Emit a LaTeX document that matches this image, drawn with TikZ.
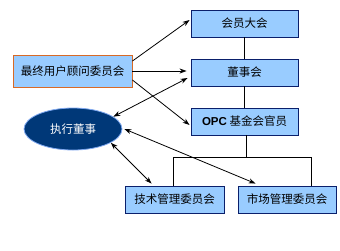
\documentclass[tikz,border=0pt]{standalone}
\usepackage{fontspec}
\setmainfont{Noto Sans CJK SC}
\newfontfamily\latinbold{Liberation Sans}
\usetikzlibrary{arrows.meta,shapes.geometric}
\definecolor{boxfill}{HTML}{99CCFF}
\definecolor{boxedge}{HTML}{0A1F6B}
\definecolor{orgedge}{HTML}{D86A26}
\definecolor{ellfill}{HTML}{003878}
\definecolor{elledge}{HTML}{7FA8F0}
\tikzset{
  orgbox/.style={draw=boxedge, fill=boxfill, line width=0.9pt, inner sep=0pt, font=\fontsize{11.5}{13}\selectfont},
  advbox/.style={draw=orgedge, fill=boxfill, line width=0.9pt, inner sep=0pt, font=\fontsize{11.5}{13}\selectfont},
  ellnode/.style={ellipse, draw=elledge, fill=ellfill, line width=0.8pt, inner sep=0pt, text=white, font=\fontsize{11.5}{13}\selectfont},
  link/.style={line width=0.8pt},
  arr/.style={line width=0.8pt, -{Stealth[length=7pt,width=5pt]}},
  darr/.style={line width=0.8pt, {Stealth[length=7pt,width=5pt]}-{Stealth[length=7pt,width=5pt]}}
}
\begin{document}
\begin{tikzpicture}[x=1pt,y=-1pt]
\useasboundingbox (0,0) rectangle (340,250);
\node[orgbox, minimum width=107pt, minimum height=27pt] (hy) at (244.5,23.5) {会员大会};
\node[orgbox, minimum width=107pt, minimum height=27pt] (ds) at (244.5,72.5) {董事会};
\node[orgbox, minimum width=107pt, minimum height=27pt] (opc) at (244.5,121.5) {{\latinbold\bfseries OPC} 基金会官员};
\node[advbox, minimum width=119pt, minimum height=32pt] (adv) at (72.5,71) {最终用户顾问委员会};
\node[ellnode, minimum width=98pt, minimum height=42pt] (ex) at (73,129) {执行董事};
\node[orgbox, minimum width=99pt, minimum height=27pt] (js) at (174.5,199.5) {技术管理委员会};
\node[orgbox, minimum width=98pt, minimum height=27pt] (sc) at (287,199.5) {市场管理委员会};
\coordinate (mid) at (246,157);
\coordinate (lj) at (173,157);
\coordinate (rs) at (311,157);
\draw[link] (hy) -- (ds);
\draw[link] (ds) -- (opc);
\draw[link] (opc.south -| mid) -- (mid);
\draw[link] (js.north -| lj) -- (lj) -- (rs) -- (sc.north -| rs);
\draw[arr] ([yshift=10pt]adv.east) -- ([xshift=-1pt,yshift=3.5pt]hy.west);
\draw[arr] (adv.east) -- ([xshift=-4pt]ds.west |- adv.east);
\draw[arr] ([yshift=-9pt]adv.east) -- ([xshift=-1pt,yshift=-3.5pt]opc.west);
\draw[darr] ([xshift=-3pt,yshift=-5.5pt]ds.west) -- (ex.17);
\draw[darr] ([xshift=2pt]ex.east) -- ([xshift=18pt,yshift=2pt]sc.north west);
\draw[darr] (ex.-20) -- ([xshift=27pt,yshift=2pt]js.north west);
\end{tikzpicture}
\end{document}
